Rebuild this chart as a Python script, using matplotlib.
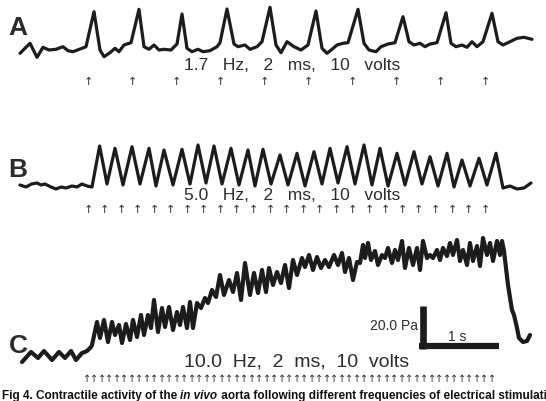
import matplotlib
matplotlib.use("Agg")
import matplotlib.pyplot as plt
import numpy as np

# ---------------- data (digitized from the recording) ----------------
# time axis in recording units (~75 per second), deflection in recording units (down = larger)
a_t = [20, 30, 37, 43, 49, 56, 63, 68, 73, 82, 86, 94, 100, 104, 110, 115, 119, 124, 131, 139,
       144, 149, 154, 159, 164, 171, 177, 182, 187, 192, 198, 203, 210, 217, 220, 227, 234, 238,
       245, 250, 257, 262, 270, 276, 281, 287, 294, 301, 308, 316, 322, 327, 332, 337, 343, 348,
       358, 364, 369, 376, 381, 388, 395, 403, 409, 414, 420, 425, 430, 437, 446, 451, 456, 462,
       467, 472, 477, 483, 492, 498, 503, 510, 517, 524, 532]
a_y = [53.3, 43.3, 57.3, 47.3, 50, 49.3, 46.7, 50.7, 51.7, 48.3, 46.7, 11.7, 50, 56.7, 52.7, 48.3,
       51.7, 45, 42.7, 9.3, 46.7, 49.3, 45, 50, 49.3, 50, 44, 14, 48.3, 51.7, 49.3, 51.7, 50.7, 46.7,
       42.7, 9, 44, 46.7, 45, 49.3, 46.7, 41.7, 7.3, 45, 52.7, 41.7, 46.7, 50, 45, 11, 48.3, 53.3,
       49.3, 45, 43.3, 42.7, 9.3, 43.3, 50, 51.7, 46.7, 44, 42.7, 16.7, 41.7, 45, 43.3, 46.7, 44,
       42.7, 12.7, 43.3, 46.7, 45, 47.3, 41.7, 46.7, 41.7, 13.3, 41.7, 45, 41.7, 38.3, 37.3, 39.3]

b_t = [20, 26, 31.5, 37, 41, 45, 51, 56, 61, 66, 72, 77, 82, 87, 92,
       99.6, 107, 115, 123, 132, 140, 149, 156, 164, 173, 182, 190, 198, 206, 214, 222, 231, 239,
       248, 255, 263, 271, 280, 288, 297, 305, 314, 322, 330, 338, 347, 355, 364, 372, 380, 388,
       397, 405, 414, 422, 430, 438, 447, 454, 462, 470, 479, 487, 496,
       503, 510, 517, 524, 531]
b_y = [185, 187, 184, 183, 185, 184, 187, 189, 187, 188, 186, 187, 184, 186, 187,
       146, 184, 148.3, 185, 146.7, 184, 148.3, 186, 150, 185, 149.3, 184, 145, 183, 146, 184,
       148.3, 185, 150, 186, 149.3, 184, 155, 185, 153.3, 186, 151.7, 184, 148.3, 183, 146.7, 184,
       145, 185, 148.3, 186, 153.3, 185, 151.7, 184, 156.7, 186, 153.3, 187, 160, 186, 158.3,
       185, 153.3,
       188, 186, 189, 188, 183]

c_t = [22, 31, 38, 44, 52, 59, 65, 71, 76, 82, 87, 91, 92,
       97, 100, 104, 108, 112, 115, 119, 122, 126, 130, 133, 137, 141, 144, 148, 151, 154, 158,
       162, 165, 169, 173, 177, 180, 183, 187, 190, 193, 197, 201, 205, 208, 212, 216, 220, 224,
       229, 233, 237, 241, 245, 250, 254, 258, 262, 266, 269, 273, 277, 281, 285, 289, 293, 297,
       302, 305, 309, 313, 317, 321, 325, 329, 334, 338, 342, 345, 349, 353, 357, 360,
       363, 365, 368, 371, 375, 378, 382, 385, 388, 392, 395, 398, 402, 405, 409, 413, 417, 420,
       423, 427, 430, 433, 437, 440, 443, 447, 450, 453, 457, 460, 463, 467, 470, 473, 477, 480,
       483, 487, 490, 493, 497, 500, 502,
       504, 508, 512, 514, 517, 519, 523, 527, 530]
c_y = [362, 352, 358, 351, 360, 352, 358, 351, 360, 353, 351, 347, 345,
       322, 338, 320, 342, 322, 335, 325, 343, 324, 340, 320, 337, 315, 335, 315, 328, 300, 332,
       308, 327, 307, 330, 312, 325, 307, 328, 302, 328, 303, 308, 298, 303, 290, 297, 275, 295,
       280, 292, 273, 300, 263, 295, 273, 293, 270, 292, 268, 285, 272, 283, 265, 288, 260, 275,
       258, 267, 255, 270, 257, 268, 260, 267, 255, 265, 253, 272, 258, 280, 262, 263,
       245, 258, 243, 260, 251, 265, 255, 258, 248, 263, 250, 260, 241, 268, 248, 265, 248, 270,
       241, 258, 255, 258, 250, 260, 248, 256, 243, 255, 240, 261, 250, 265, 243, 261, 246, 266,
       238, 255, 243, 261, 241, 255, 241,
       251, 285, 310, 315, 328, 338, 342, 341, 335]

# stimulus trains: first pulse, last pulse, number of pulses (recording units)
stim_a = (88, 485, 10)
stim_b = (88, 485, 25)
stim_c = (87, 492, 55)

labels = ["A", "B", "C"]
protocols = ["1.7   Hz,   2   ms,   10   volts",
             "5.0   Hz,   2   ms,   10   volts",
             "10.0  Hz,  2  ms,  10  volts"]
caption_pre = "Fig 4. Contractile activity of the "
caption_it = "in vivo"
caption_post = " aorta following different frequencies of electrical stimulation."
scale_force = "20.0 Pa"
scale_time = "1 s"

# ---------------- drawing ----------------
W, H = 546, 401
fig = plt.figure(figsize=(W / 100, H / 100), dpi=100)
ax = fig.add_axes([0, 0, 1, 1])
ax.set_xlim(0, W)
ax.set_ylim(H, 0)
ax.axis("off")

ink = "#1c1c1c"
txt = "#2b2b2b"
font = "Liberation Sans"

ax.plot(a_t, a_y, color=ink, lw=2.3, solid_joinstyle="round", solid_capstyle="round")
ax.plot(b_t, b_y, color=ink, lw=2.3, solid_joinstyle="round", solid_capstyle="round")
ax.plot(c_t, c_y, color=ink, lw=3.0, solid_joinstyle="round", solid_capstyle="round")

# panel letters
for lab, (x, y) in zip(labels, [(8, 35), (8, 177), (9, 353)]):
    ax.text(x, y, lab, fontsize=19, fontweight="bold", family=font, color=txt,
            ha="left", va="baseline")

# protocol texts
for p, (x, y, fs) in zip(protocols, [(292, 65, 12.5), (292, 195, 12.5), (297, 362, 14)]):
    ax.text(x, y, p, fontsize=fs, family=font, color=txt, ha="center", va="center")

# stimulus arrows
for (first, last, n), y, fs in zip([stim_a, stim_b, stim_c], [82, 210, 379], [8, 8, 7]):
    for xs in np.linspace(first, last, n):
        ax.text(xs, y, "\u2191", fontsize=fs, family="DejaVu Sans", color=txt,
                ha="center", va="center")

# scale bar
ax.plot([422.5, 422.5], [306, 349], color=ink, lw=4.8, solid_capstyle="butt")
ax.plot([419, 499], [346, 346], color=ink, lw=4.5, solid_capstyle="butt")
ax.text(418, 330, scale_force, fontsize=10, family=font, color=txt, ha="right", va="baseline")
ax.text(457, 341, scale_time, fontsize=10, family=font, color=txt, ha="center", va="baseline")

# caption (runs off the right edge as in the source)
cap_fs = 8.5
cap_y = 399
t1 = ax.text(2, cap_y, caption_pre, fontsize=cap_fs, fontweight="bold", family=font, color="#111",
             ha="left", va="baseline")
fig.canvas.draw()
bb = t1.get_window_extent()
x_it = ax.transData.inverted().transform((bb.x1, 0))[0]
t2 = ax.text(x_it, cap_y, caption_it, fontsize=cap_fs, fontweight="bold", style="italic",
             family=font, color="#111", ha="left", va="baseline")
fig.canvas.draw()
bb2 = t2.get_window_extent()
x_post = ax.transData.inverted().transform((bb2.x1, 0))[0]
ax.text(x_post, cap_y, caption_post, fontsize=cap_fs, fontweight="bold", family=font, color="#111",
        ha="left", va="baseline")

fig.savefig("out.png", dpi=100)
